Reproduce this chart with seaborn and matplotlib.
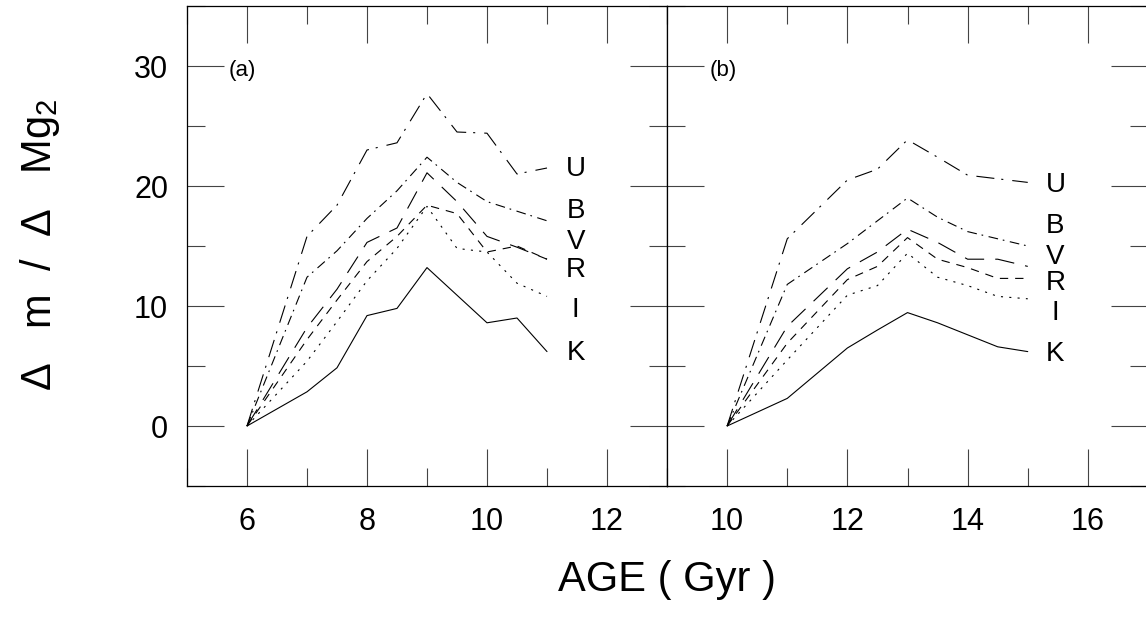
import matplotlib
matplotlib.use("Agg")
import matplotlib.pyplot as plt
from matplotlib.ticker import MultipleLocator
import pandas as pd
import seaborn as sns

BANDS = ["U", "B", "V", "R", "I", "K"]

# panel (a)
AGE_A = [6, 7, 7.5, 8, 8.5, 9, 9.5, 10, 10.5, 11]
U_A = [0, 15.8, 18.4, 23.0, 23.6, 27.7, 24.5, 24.4, 21.0, 21.5]
B_A = [0, 12.4, 14.6, 17.3, 19.6, 22.4, 20.3, 18.7, 17.9, 17.1]
V_A = [0, 8.2, 11.4, 15.3, 16.5, 21.1, 18.7, 15.8, 14.9, 13.9]
R_A = [0, 7.2, 10.5, 13.7, 15.8, 18.4, 17.7, 14.5, 15.0, 13.9]
I_A = [0, 5.4, 8.7, 12.1, 14.8, 18.3, 14.8, 14.5, 11.9, 10.8]
K_A = [0, 2.85, 4.85, 9.2, 9.8, 13.2, 10.9, 8.6, 9.0, 6.2]

# panel (b)
AGE_B = [10, 11, 12, 12.5, 13, 13.5, 14, 14.5, 15]
U_B = [0, 15.6, 20.5, 21.4, 23.85, 22.4, 20.9, 20.6, 20.3]
B_B = [0, 11.8, 15.2, 17.1, 19.0, 17.4, 16.2, 15.6, 15.0]
V_B = [0, 8.3, 13.1, 14.5, 16.4, 15.3, 13.9, 13.9, 13.3]
R_B = [0, 6.9, 12.2, 13.3, 15.7, 13.9, 13.2, 12.3, 12.3]
I_B = [0, 5.5, 10.9, 11.7, 14.4, 12.4, 11.7, 10.8, 10.6]
K_B = [0, 2.3, 6.5, 8.0, 9.45, 8.6, 7.6, 6.6, 6.2]

# band name positions at the end of the curves
LABEL_X_A = 11.48
LABEL_Y_A = [21.4, 17.9, 15.3, 13.0, 9.7, 6.1]
LABEL_X_B = 15.46
LABEL_Y_B = [20.1, 16.7, 14.1, 11.9, 9.45, 6.0]

XLIM_A = (5, 13)
XLIM_B = (9, 17)
YLIM = (-5, 35)

DASHES = {
    "U": (13, 5, 1.5, 6.5),
    "B": (7, 3.5, 1.2, 4),
    "V": (14, 8),
    "R": (6, 5),
    "I": (1.5, 4.5),
    "K": "",
}


def to_long(ages, series):
    rows = []
    for band, vals in zip(BANDS, series):
        for a, v in zip(ages, vals):
            rows.append({"age": a, "dm": v, "band": band})
    return pd.DataFrame(rows)


df_a = to_long(AGE_A, [U_A, B_A, V_A, R_A, I_A, K_A])
df_b = to_long(AGE_B, [U_B, B_B, V_B, R_B, I_B, K_B])

sns.set_style("ticks")
plt.rcParams["font.family"] = ["Liberation Sans", "DejaVu Sans"]
plt.rcParams["mathtext.fontset"] = "custom"
plt.rcParams["mathtext.rm"] = "Liberation Sans"
plt.rcParams["lines.scale_dashes"] = False
plt.rcParams["text.color"] = "black"
plt.rcParams["xtick.labelcolor"] = "black"
plt.rcParams["ytick.labelcolor"] = "black"

W, H = 1146, 620
fig = plt.figure(figsize=(W / 100, H / 100), dpi=100)
ax_a = fig.add_axes([187 / W, 1 - 486 / H, 480 / W, 480 / H])
ax_b = fig.add_axes([667 / W, 1 - 486 / H, 481 / W, 480 / H])

panels = [
    (ax_a, df_a, XLIM_A, "(a)", 5.7, LABEL_X_A, LABEL_Y_A),
    (ax_b, df_b, XLIM_B, "(b)", 9.71, LABEL_X_B, LABEL_Y_B),
]

for ax, df, xlim, tag, tag_x, lab_x, lab_y in panels:
    sns.lineplot(
        data=df, x="age", y="dm", style="band", style_order=BANDS,
        dashes=DASHES, color="black", linewidth=0.8, errorbar=None,
        sort=False, legend=False, ax=ax,
    )
    ax.set_xlim(*xlim)
    ax.set_ylim(*YLIM)
    ax.xaxis.set_major_locator(MultipleLocator(2))
    ax.xaxis.set_minor_locator(MultipleLocator(1))
    ax.yaxis.set_major_locator(MultipleLocator(10))
    ax.yaxis.set_minor_locator(MultipleLocator(5))
    ax.tick_params(which="both", direction="in", top=True, right=True,
                   color="#444444", width=0.8)
    ax.tick_params(which="major", length=26.5)
    ax.tick_params(which="minor", length=13)
    ax.tick_params(axis="x", labelsize=22, pad=15, labelcolor="black")
    ax.tick_params(axis="y", labelsize=22, pad=13.5, labelcolor="black")
    for sp in ax.spines.values():
        sp.set_color("black")
        sp.set_linewidth(0.9)
    ax.set_xlabel("")
    ax.set_ylabel("")
    ax.text(tag_x, 29.6, tag, fontsize=16, ha="left", va="center")
    for band, y in zip(BANDS, lab_y):
        ax.text(lab_x, y, band, fontsize=20, ha="center", va="center")

ax_b.tick_params(axis="y", labelleft=False)

fig.text(40 / W, 1 - 245 / H, "Δ   m  /  Δ   Mg$_2$", rotation=90,
         fontsize=30, ha="center", va="center")
fig.text(667 / W, 1 - 580 / H, "AGE ( Gyr )", fontsize=30,
         ha="center", va="center")

fig.savefig("out.png", dpi=100)
